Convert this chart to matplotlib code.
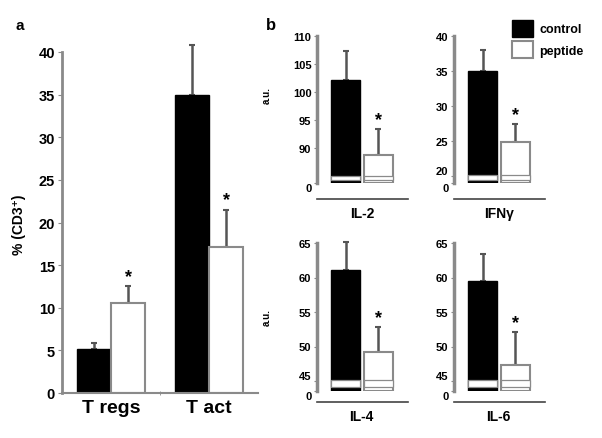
import matplotlib
matplotlib.use("Agg")
import matplotlib.pyplot as plt
from matplotlib.patches import Patch
import numpy as np

plt.rcParams['font.family'] = ['Liberation Sans', 'DejaVu Sans']
plt.rcParams['font.weight'] = 'bold'

# panel a: % of CD3+ cells
groups = ["T regs", "T act"]
a_control = [5.2, 35.0]
a_control_err = [0.7, 5.8]
a_peptide = [10.6, 17.1]
a_peptide_err = [1.9, 4.4]

# panel b: cytokines (a.u.), broken y axis
cytokines = ["IL-2", "IFNγ", "IL-4", "IL-6"]
b_control = [102.1, 35.0, 61.1, 59.5]
b_control_err = [5.2, 3.0, 4.0, 3.9]
b_peptide = [88.9, 24.8, 49.2, 47.3]
b_peptide_err = [4.5, 2.6, 3.6, 4.8]
b_break = [85, 20, 45, 45]
b_top = [110, 40, 65, 65]
b_ticks = [[0, 90, 95, 100, 105, 110],
           [0, 20, 25, 30, 35, 40],
           [0, 45, 50, 55, 60, 65],
           [0, 45, 50, 55, 60, 65]]

W, H = 602, 439
SPINE = '#8a8a8a'
ERR = '#555555'
EDGE = '#8a8a8a'


def broken_scale(b, g):
    def fwd(v):
        v = np.asarray(v, float)
        return np.where(v < b, v / b * g, g + v - b)

    def inv(y):
        y = np.asarray(y, float)
        return np.where(y < g, y / g * b, b + y - g)
    return fwd, inv


def star(ax, x, top):
    ax.annotate('*', (x, top), xytext=(0, 1), textcoords='offset points',
                ha='center', va='bottom', fontsize=13, fontweight='bold',
                color='black', annotation_clip=False)


def up_err(ax, xs, means, errs):
    ax.errorbar(xs, means, yerr=[np.zeros(len(xs)), errs], fmt='none',
                ecolor=ERR, elinewidth=1.8, capsize=2, capthick=1.5, zorder=1,
                clip_on=False)


fig = plt.figure(figsize=(W / 100, H / 100), dpi=100)

# ---------------- panel a
ax = fig.add_axes([62 / W, 1 - 394 / H, 196 / W, 341 / H])
x = np.arange(len(groups))
bw = 0.347
ax.bar(x - bw / 2, a_control, bw, color='black', edgecolor='black', zorder=2)
ax.bar(x + bw / 2, a_peptide, bw, color='white', edgecolor=EDGE, linewidth=1.5, zorder=2)
up_err(ax, x - bw / 2, a_control, a_control_err)
up_err(ax, x + bw / 2, a_peptide, a_peptide_err)
for xi, m, e in zip(x, a_peptide, a_peptide_err):
    star(ax, xi + bw / 2, m + e)
ax.set_xlim(-0.5, 1.5)
ax.set_ylim(0, 40)
ax.set_yticks(range(0, 41, 5))
ax.set_xticks(x)
ax.set_xticklabels(groups, fontsize=14, fontweight='bold')
ax.set_xticks([0.5], minor=True)
ax.tick_params(axis='x', which='major', length=0, pad=4)
ax.tick_params(axis='x', which='minor', length=3, color=SPINE, direction='inout')
ax.tick_params(axis='y', length=3, color=SPINE, labelsize=10.5, pad=2)
for s in ('top', 'right'):
    ax.spines[s].set_visible(False)
ax.spines['left'].set_color(SPINE)
ax.spines['left'].set_linewidth(2)
ax.spines['bottom'].set_color(SPINE)
ax.spines['bottom'].set_linewidth(1.5)
fig.text(19 / W, 1 - 225 / H, '% (CD3⁺)', rotation=90, ha='center', va='center',
         fontsize=10, fontweight='bold')
fig.text(20 / W, 1 - 26 / H, 'a', ha='center', va='center', fontsize=11, fontweight='bold')

# ---------------- panel b
lefts = [317, 454, 317, 454]
tops = [37, 37, 244, 244]
heights = [147, 147, 148, 148]
gaps = [6.5, 7, 10, 10]
drops = [11.5, 11.5, 8, 8]
pw = 0.89
for i, name in enumerate(cytokines):
    axb = fig.add_axes([lefts[i] / W, 1 - (tops[i] + heights[i]) / H, 91 / W, heights[i] / H])
    b, top = b_break[i], b_top[i]
    g = (top - b) * gaps[i] / (heights[i] - gaps[i])
    fwd, inv = broken_scale(b, g)
    axb.set_yscale('function', functions=(fwd, inv))
    axb.bar(0, b_control[i], pw, color='black', edgecolor='black', zorder=2)
    axb.bar(1, b_peptide[i], pw, color='white', edgecolor=EDGE, linewidth=1.5, zorder=2)
    up_err(axb, [0], [b_control[i]], [b_control_err[i]])
    up_err(axb, [1], [b_peptide[i]], [b_peptide_err[i]])
    star(axb, 1, b_peptide[i] + b_peptide_err[i])
    # axis break band across the bars
    lo, hi = float(inv(0.45 * g)), float(inv(1.1 * g))
    axb.bar([0, 1], hi - lo, pw, bottom=lo, color='white', edgecolor=EDGE,
            linewidth=0.9, zorder=3)
    axb.set_ylim(0, top)
    axb.set_xlim(-0.877, 1.92)
    axb.set_yticks(b_ticks[i])
    axb.set_yticklabels([str(t) for t in b_ticks[i]])
    labels = axb.get_yticklabels()
    labels[0].set_va('top')
    if b_ticks[i][1] == b:
        labels[1].set_va('bottom')
    axb.set_xticks([0.5])
    axb.set_xticklabels([name], fontsize=9.5, fontweight='bold')
    axb.tick_params(axis='x', length=0, pad=5)
    axb.tick_params(axis='y', length=2, color=SPINE, labelsize=8, pad=2)
    for s in ('top', 'right'):
        axb.spines[s].set_visible(False)
    axb.spines['left'].set_color(SPINE)
    axb.spines['left'].set_linewidth(2.5)
    axb.spines['bottom'].set_position(('outward', drops[i]))
    axb.spines['bottom'].set_color('#444444')
    axb.spines['bottom'].set_linewidth(1.2)
    if i % 2 == 0:
        fig.text(267 / W, 1 - (tops[i] + 58 + 16 * (i // 2)) / H, 'a.u.', rotation=90,
                 ha='center', va='center', fontsize=7, fontweight='bold')

fig.text(271 / W, 1 - 26 / H, 'b', ha='center', va='center', fontsize=12, fontweight='bold')

handles = [Patch(facecolor='black', edgecolor='black', label='control'),
           Patch(facecolor='white', edgecolor=EDGE, linewidth=1.5, label='peptide')]
fig.legend(handles=handles, loc='upper left', bbox_to_anchor=(503 / W, 1 - 12 / H),
           frameon=False, fontsize=9, handlelength=1.7, handleheight=1.7,
           handletextpad=0.5, labelspacing=0.35, borderpad=0.2)

fig.savefig('out.png', dpi=100)
